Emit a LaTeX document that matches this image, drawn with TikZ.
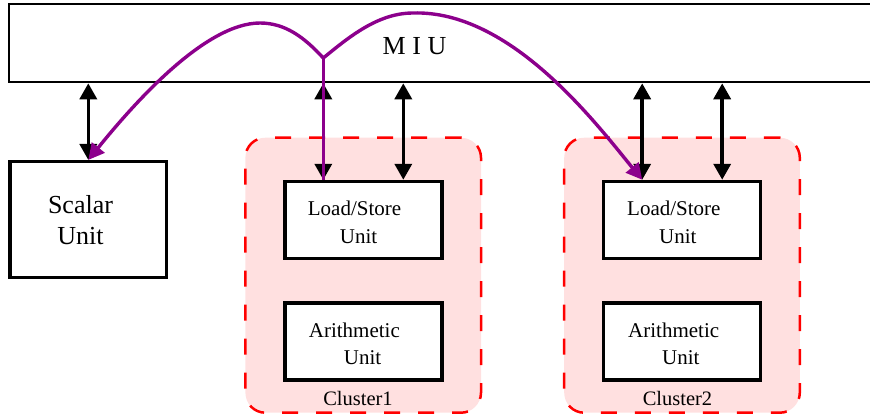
\documentclass[tikz,border=0pt]{standalone}
\usepackage{fontspec}
\setmainfont{Liberation Serif}
\usetikzlibrary{arrows.meta}

\definecolor{clusterpink}{RGB}{255,224,224}
\definecolor{linkpurple}{RGB}{140,0,140}

\newcommand{\bigfont}{\fontsize{26}{31}\selectfont}
\newcommand{\unitfont}{\fontsize{21}{27.5}\selectfont}
\newcommand{\tagfont}{\fontsize{20.5}{24}\selectfont}

\tikzset{
  unitbox/.style={draw, fill=white, line width=3.5pt, inner sep=0pt, minimum width=157pt, minimum height=77pt},
  clusterbox/.style={draw=red, fill=clusterpink, line width=2.5pt, dash pattern=on 16pt off 18pt, rounded corners=20pt, minimum width=235.6pt, minimum height=275pt},
  unitlabel/.style={inner sep=0pt, align=left, font=\unitfont, anchor=west},
  busarrow/.style={{Triangle[length=16pt,width=17pt]}-{Triangle[length=16pt,width=17pt]}, line width=3.6pt},
  linkline/.style={draw=linkpurple, line width=3.4pt},
  linkarrow/.style={linkline, -{Triangle[length=16pt,width=16pt]}},
}

\begin{document}
\begin{tikzpicture}[x=1pt,y=-1pt]
  \useasboundingbox (0,0) rectangle (870,416);

  % MIU
  \node[draw, line width=2.2pt, inner sep=0pt, minimum width=879pt, minimum height=78pt] (miu) at (448.5,43.2) {};
  \node[inner sep=0pt, font=\bigfont, anchor=base] (miutext) at (414.5,54) {M I U};

  % Scalar unit
  \node[unitbox, minimum width=156.7pt, minimum height=116pt] (scalar) at (88.3,219.7) {};
  \node[inner sep=0pt, align=center, font=\bigfont] (scalartext) at (80.5,219.6) {Scalar\\Unit};

  % First cluster
  \node[clusterbox] (cluster1) at (363.2,275.2) {};
  \node[inner sep=0pt, font=\tagfont, anchor=base] (cluster1text) at (358,405) {Cluster1};

  %% Load/Store unit
  \node[unitbox] (ls1) at (363.3,220) {};
  \node[unitlabel] (ls1text) at (307.7,222.5) {Load/Store\\\hspace*{32pt}Unit};

  %% Arithmetic unit
  \node[unitbox] (ar1) at (363.3,341.7) {};
  \node[unitlabel] (ar1text) at (308.7,344) {Arithmetic\\\hspace*{35pt}Unit};

  % Second cluster
  \node[clusterbox] (cluster2) at (682,275.2) {};
  \node[inner sep=0pt, font=\tagfont, anchor=base] (cluster2text) at (677.5,405) {Cluster2};

  %% Load/Store unit
  \node[unitbox] (ls2) at (682.2,220) {};
  \node[unitlabel] (ls2text) at (627,222.5) {Load/Store\\\hspace*{32pt}Unit};

  %% Arithmetic unit
  \node[unitbox] (ar2) at (682.2,341.7) {};
  \node[unitlabel] (ar2text) at (628,344) {Arithmetic\\\hspace*{34pt}Unit};

  % Ports on the Load/Store units
  \coordinate (ls1left) at ([xshift=-40pt]ls1.north);
  \coordinate (ls1right) at ([xshift=40pt]ls1.north);
  \coordinate (ls2left) at ([xshift=-40pt]ls2.north);
  \coordinate (ls2right) at ([xshift=40pt]ls2.north);

  % Links to the MIU
  \draw[busarrow] (scalar.north) -- (scalar.north |- miu.south);
  \draw[busarrow] (ls1left) -- (ls1left |- miu.south);
  \draw[busarrow] (ls1right) -- (ls1right |- miu.south);
  \draw[busarrow] (ls2left) -- (ls2left |- miu.south);
  \draw[busarrow] (ls2right) -- (ls2right |- miu.south);

  % Purple paths
  \coordinate (split) at (323.3,58);
  \draw[linkline] (split) -- (ls1left);
  \draw[linkarrow] (split) .. controls (304,37) and (285,23) .. (260,23)
    .. controls (205,23) and (133.5,104) .. (scalar.north);
  \draw[linkarrow] (split) .. controls (349,37) and (378,13) .. (413,13)
    .. controls (510,10) and (595,122) .. (ls2left);

\end{tikzpicture}
\end{document}
